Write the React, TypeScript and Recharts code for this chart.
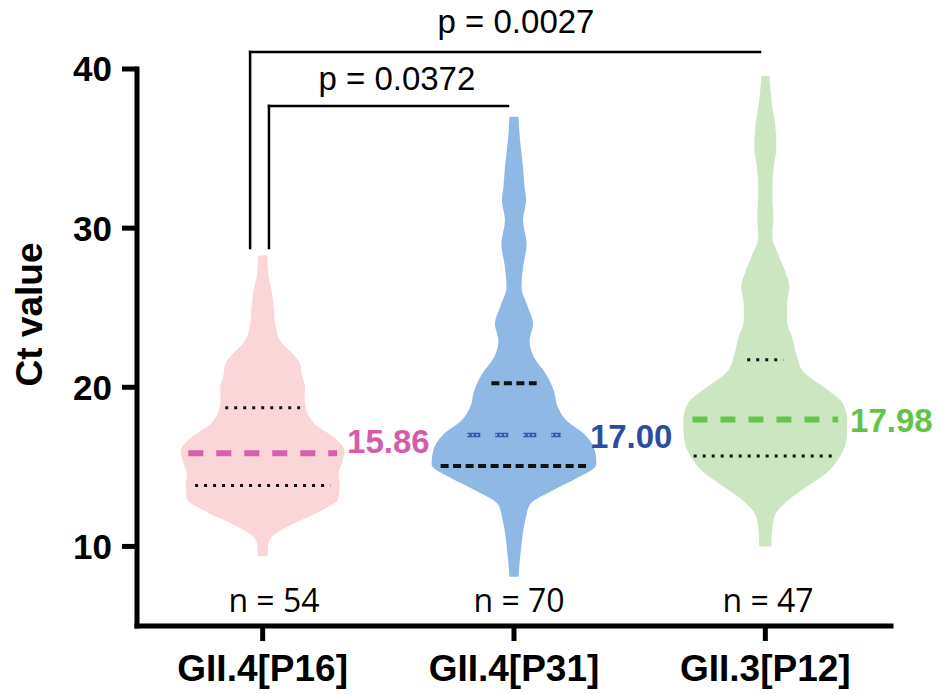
import React from 'react';
import { ComposedChart, Area, XAxis, YAxis, ReferenceLine, ReferenceDot } from 'recharts';

const categories = ['GII.4[P16]', 'GII.4[P31]', 'GII.3[P12]'];
const sampleSizes = [54, 70, 47];
const yTicks = [10, 20, 30, 40];

// violin outlines: Ct value -> half width (in category units)
const p16Ct = [9.38, 10.13, 10.76, 11.4, 12.2, 13.03, 13.9, 14.54, 15.36, 15.99, 16.82, 17.7, 18.51, 19.33, 19.96, 20.84, 21.47, 22.1, 22.92, 24.0, 25.02, 26.07, 27.13, 28.28];
const p16Half = [0.02, 0.022, 0.048, 0.119, 0.227, 0.302, 0.306, 0.302, 0.318, 0.326, 0.287, 0.207, 0.175, 0.167, 0.169, 0.155, 0.149, 0.119, 0.07, 0.05, 0.044, 0.036, 0.022, 0.018];

const p31Ct = [8.1, 10.13, 11.58, 12.65, 13.47, 14.3, 15.17, 16.0, 17.07, 17.88, 18.72, 19.77, 20.84, 21.87, 22.92, 24.0, 25.02, 26.28, 27.54, 29.0, 30.49, 31.75, 32.58, 33.84, 35.53, 37.0];
const p31Half = [0.018, 0.03, 0.044, 0.064, 0.147, 0.251, 0.328, 0.322, 0.279, 0.211, 0.175, 0.159, 0.127, 0.08, 0.062, 0.076, 0.056, 0.03, 0.036, 0.05, 0.036, 0.048, 0.042, 0.036, 0.024, 0.018];

const p12Ct = [10.0, 11.16, 12.0, 12.84, 13.68, 14.73, 15.8, 16.83, 17.88, 18.95, 19.98, 21.03, 22.1, 23.13, 24.18, 25.25, 26.28, 27.33, 28.4, 29.43, 30.7, 32.18, 33.64, 35.1, 36.36, 38.05, 39.56];
const p12Half = [0.024, 0.028, 0.04, 0.086, 0.159, 0.251, 0.302, 0.324, 0.326, 0.31, 0.235, 0.149, 0.123, 0.107, 0.086, 0.086, 0.096, 0.078, 0.05, 0.028, 0.032, 0.028, 0.032, 0.044, 0.04, 0.024, 0.016];

const medians = [15.86, 17.0, 17.98];
const lowerQuartiles = [13.83, 15.05, 15.68];
const upperQuartiles = [18.72, 20.26, 21.73];
const medianSpan = [0.296, 0.186, 0.29];
const lowerSpan = [0.269, 0.292, 0.285];
const upperSpan = [0.149, 0.09, 0.072];

const pLabels = ['p = 0.0372', 'p = 0.0027'];

const ARIAL = '"Liberation Sans", Arial, Helvetica, sans-serif';
const violinFill = ['#fad6d8', '#8fb9e4', '#cde6c2'];
const labelColor = ['#d65ca8', '#2e4c9f', '#62c447'];

const toRows = (cts: number[], half: number[], center: number) =>
  cts.map((ct, i) => ({ ct, range: [center - half[i], center + half[i]] }));

const violins = [toRows(p16Ct, p16Half, 1), toRows(p31Ct, p31Half, 2), toRows(p12Ct, p12Half, 3)];

const textAt = (text: string, style: any) => (props: any) => (
  <text x={props.cx} y={props.cy} {...style}>
    {text}
  </text>
);

const renderYLabel = (props: any) => {
  const vb = props.viewBox && props.viewBox.height ? props.viewBox : { x: 37, y: 69, width: 100, height: 557 };
  const cx = vb.x - 8;
  const cy = vb.y + vb.height / 2 - 33;
  return (
    <text
      x={cx}
      y={cy}
      transform={`rotate(-90 ${cx} ${cy})`}
      textAnchor="middle"
      dominantBaseline="central"
      fontFamily={ARIAL}
      fontWeight={700}
      fontSize={37}
      fill="#000"
    >
      Ct value
    </text>
  );
};

function seg(x1: number, y1: number, x2: number, y2: number, key: string, props: any) {
  return (
    <ReferenceLine
      key={key}
      segment={[{ x: x1, y: y1 }, { x: x2, y: y2 }]}
      ifOverflow="visible"
      {...props}
    />
  );
}

export default function App() {
  const bracket = { stroke: '#000', strokeWidth: 2.5, strokeLinecap: 'square' };
  const dotted = { stroke: '#111', strokeWidth: 3, strokeDasharray: '3 6' };
  const blueDash = { stroke: '#111', strokeWidth: 4, strokeDasharray: '8 4.5' };

  return (
    <div style={{ position: 'absolute', left: 0, top: 0, background: '#fff' }}>
      <ComposedChart
        width={941}
        height={694}
        layout="vertical"
        margin={{ top: 69, right: 50, bottom: 8, left: 37 }}
      >
        <XAxis
          type="number"
          domain={[0.5, 3.5]}
          allowDataOverflow
          ticks={[1, 2, 3]}
          tickFormatter={(v: number) => categories[v - 1]}
          interval={0}
          height={60}
          axisLine={{ stroke: '#000', strokeWidth: 5, strokeLinecap: 'square' }}
          tickLine={{ stroke: '#000', strokeWidth: 5 }}
          tickSize={15}
          tickMargin={14}
          tick={{ fill: '#000', fontSize: 37, fontWeight: 700, fontFamily: ARIAL }}
        />
        <YAxis
          type="number"
          dataKey="ct"
          domain={[5, 40]}
          reversed
          allowDataOverflow
          ticks={yTicks}
          interval={0}
          width={100}
          axisLine={{ stroke: '#000', strokeWidth: 5, strokeLinecap: 'square' }}
          tickLine={{ stroke: '#000', strokeWidth: 5 }}
          tickSize={15}
          tickMargin={10}
          tick={{ fill: '#000', fontSize: 35, fontWeight: 700, fontFamily: ARIAL }}
          label={{ content: renderYLabel }}
        />

        {violins.map((rows, i) => (
          <Area
            key={`v${i}`}
            data={rows}
            dataKey="range"
            type="monotone"
            stroke="none"
            fill={violinFill[i]}
            fillOpacity={1}
            dot={false}
            activeDot={false}
            isAnimationActive={false}
          />
        ))}

        {/* quartiles */}
        {seg(1 - lowerSpan[0], lowerQuartiles[0], 1 + lowerSpan[0], lowerQuartiles[0], 'q1a', dotted)}
        {seg(1 - upperSpan[0], upperQuartiles[0], 1 + upperSpan[0], upperQuartiles[0], 'q3a', dotted)}
        {seg(2 - lowerSpan[1], lowerQuartiles[1], 2 + lowerSpan[1], lowerQuartiles[1], 'q1b', blueDash)}
        {seg(2 - upperSpan[1], upperQuartiles[1], 2 + upperSpan[1], upperQuartiles[1], 'q3b', blueDash)}
        {seg(3 - lowerSpan[2], lowerQuartiles[2], 3 + lowerSpan[2], lowerQuartiles[2], 'q1c', dotted)}
        {seg(3 - upperSpan[2], upperQuartiles[2], 3 + upperSpan[2], upperQuartiles[2], 'q3c', dotted)}

        {/* medians */}
        {seg(1 - medianSpan[0], medians[0], 1 + medianSpan[0], medians[0], 'ma', {
          stroke: '#d362ad', strokeWidth: 6, strokeDasharray: '15 13',
        })}
        {seg(2 - medianSpan[1], medians[1], 2 + medianSpan[1], medians[1], 'mb', {
          stroke: '#3c55ae', strokeWidth: 4.5, strokeDasharray: '13 15',
        })}
        {seg(2 - medianSpan[1], medians[1], 2 + medianSpan[1], medians[1], 'mb2', {
          stroke: '#a9c8ee', strokeWidth: 1.5, strokeDasharray: '2 2.5 2 2.5 2 17',
        })}
        {seg(3 - medianSpan[2], medians[2], 3 + medianSpan[2], medians[2], 'mc', {
          stroke: '#66c44c', strokeWidth: 6, strokeDasharray: '15 13',
        })}

        {/* significance brackets */}
        {seg(1.025, 28.75, 1.025, 37.68, 'b1l', bracket)}
        {seg(1.025, 37.68, 1.976, 37.68, 'b1t', bracket)}
        {seg(0.95, 28.75, 0.95, 41.07, 'b2l', bracket)}
        {seg(0.95, 41.07, 2.979, 41.07, 'b2t', bracket)}

        <ReferenceDot
          x={1.534}
          y={38.68}
          ifOverflow="visible"
          shape={textAt(pLabels[0], { textAnchor: 'middle', fontFamily: ARIAL, fontSize: 33, fill: '#000' })}
        />
        <ReferenceDot
          x={2.008}
          y={42.26}
          ifOverflow="visible"
          shape={textAt(pLabels[1], { textAnchor: 'middle', fontFamily: ARIAL, fontSize: 33, fill: '#000' })}
        />

        {/* median values */}
        <ReferenceDot
          x={1.336}
          y={15.87}
          ifOverflow="visible"
          shape={textAt(medians[0].toFixed(2), { fontFamily: ARIAL, fontWeight: 700, fontSize: 33, fill: labelColor[0] })}
        />
        <ReferenceDot
          x={2.302}
          y={16.18}
          ifOverflow="visible"
          shape={textAt(medians[1].toFixed(2), { fontFamily: ARIAL, fontWeight: 700, fontSize: 33, fill: labelColor[1] })}
        />
        <ReferenceDot
          x={3.337}
          y={17.19}
          ifOverflow="visible"
          shape={textAt(medians[2].toFixed(2), { fontFamily: ARIAL, fontWeight: 700, fontSize: 33, fill: labelColor[2] })}
        />

        {/* sample sizes */}
        {[1.045, 2.02, 3.011].map((x, i) => (
          <ReferenceDot
            key={`n${i}`}
            x={x}
            y={5.88}
            ifOverflow="visible"
            shape={textAt(`n = ${sampleSizes[i]}`, {
              textAnchor: 'middle',
              fontFamily: '"Open Sans", sans-serif',
              fontSize: 32,
              fill: '#000',
            })}
          />
        ))}
      </ComposedChart>
    </div>
  );
}
